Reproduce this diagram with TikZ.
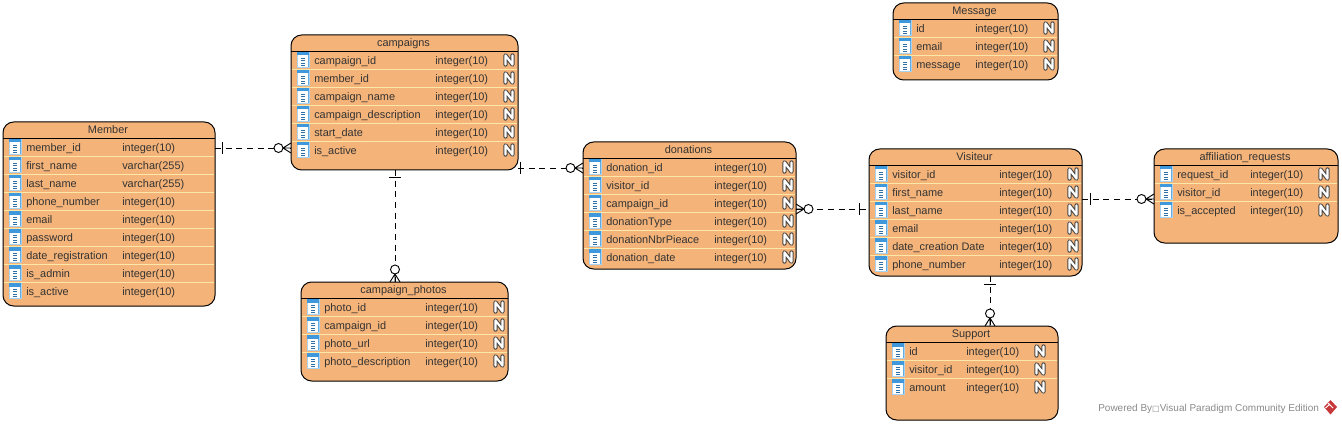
\documentclass[tikz,border=0pt]{standalone}
\usepackage{fontspec}
\setmainfont{Liberation Sans}
\newfontfamily\symfont{DejaVu Sans}
\definecolor{ent}{HTML}{F4B378}
\definecolor{rowline}{HTML}{FBE8A8}
\definecolor{iconblue}{HTML}{3F97DC}
\definecolor{iconlight}{HTML}{A9D2F0}
\definecolor{icondark}{HTML}{2F6FA8}
\definecolor{nedge}{HTML}{4A4A4A}
\definecolor{footgrey}{HTML}{8A8A8A}
\definecolor{vpred}{HTML}{C8373A}
\tikzset{
  entbox/.style={draw=black,line width=0.75pt,fill=ent,rounded corners=8pt,inner sep=0pt,outer sep=0pt},
  enttitle/.style={font=\fontsize{8.2pt}{9pt}\selectfont,inner sep=0pt,anchor=base,text=black!80},
  cell/.style={font=\fontsize{8.2pt}{9pt}\selectfont,inner sep=0pt,anchor=base west,text=black!80},
  conn/.style={line width=0.7pt,dash pattern=on 4.5pt off 3.5pt},
  markline/.style={line width=0.7pt},
  rowrule/.style={draw=rowline,line width=0.6pt},
  footer/.style={font=\fontsize{7.5pt}{9pt}\selectfont,text=footgrey,inner sep=0pt,anchor=base west},
}
\newcommand{\rowicon}[2]{%
  \fill[white,draw=iconlight,line width=0.4pt] (#1+6,#2-8) rectangle (#1+18,#2+7);
  \fill[iconblue] (#1+6,#2-8) rectangle (#1+18,#2-4.5);
  \fill[iconblue!80] (#1+16.5,#2-4.5) rectangle (#1+18,#2+7);
  \foreach \k in {-2,0.5,3,5}{\draw[icondark,line width=0.55pt] (#1+10,#2+\k) -- (#1+14,#2+\k);}
}
\newcommand{\nullmark}[2]{%
  \draw[nedge,line width=3.2pt,line join=round,line cap=round] (#1-3.5,#2+4.6) -- (#1-3.5,#2-4.6) -- (#1+3.5,#2+4.6) -- (#1+3.5,#2-4.6);
  \draw[white,line width=1.6pt,line join=round,line cap=round] (#1-3.5,#2+4.6) -- (#1-3.5,#2-4.6) -- (#1+3.5,#2+4.6) -- (#1+3.5,#2-4.6);
}
% name, title, x0,y0,x1,y1, type x, N x (0 = none), rows
\newcommand{\entity}[9]{%
  \node[entbox,minimum width={(#5-#3)*0.75pt},minimum height={(#6-#4)*0.75pt}] (#1) at ({0.5*#3+0.5*#5},{0.5*#4+0.5*#6}) {};
  \node[enttitle] (#1-title) at ({0.5*#3+0.5*#5-1},#4+11.5) {#2};
  \draw[black,line width=0.7pt] (#3,#4+16) -- (#5,#4+16);
  \foreach \rn/\rt [count=\ri from 0] in {#9} {
    \pgfmathsetmacro{\ry}{#4+25+18*\ri}
    \ifnum\ri>0 \draw[rowrule] (#3+1,\ry-9) -- (#5-1,\ry-9); \fi
    \rowicon{#3}{\ry}
    \node[cell] at (#3+23,\ry+4.5) {\rn};
    \node[cell] at (#7,\ry+4.5) {\rt};
    \ifnum#8>0 \nullmark{#8}{\ry}\fi
  }
}
\newcommand{\crowh}[3]{%
  \draw[markline] (#1,#2-5) -- (#1-#3*8,#2) -- (#1,#2+5) (#1,#2) -- (#1-#3*8,#2);
  \draw[markline,fill=white] (#1-#3*12.5,#2) circle[radius=4.5];
}
\newcommand{\crowv}[2]{%
  \draw[markline] (#1-5,#2) -- (#1,#2-8) -- (#1+5,#2) (#1,#2) -- (#1,#2-8);
  \draw[markline,fill=white] (#1,#2-12.5) circle[radius=4.5];
}
\begin{document}
\begin{tikzpicture}[x=0.75pt,y=-0.75pt]
\useasboundingbox (0,0) rectangle (1342,424);
\fill[white] (0,0) rectangle (1342,424);

\entity{member}{Member}{3}{122}{215}{306}{122}{0}{member\_id/integer(10),first\_name/varchar(255),last\_name/varchar(255),phone\_number/integer(10),email/integer(10),password/integer(10),date\_registration/integer(10),is\_admin/integer(10),is\_active/integer(10)}
\entity{campaigns}{campaigns}{291}{35}{518}{170}{435}{509}{campaign\_id/integer(10),member\_id/integer(10),campaign\_name/integer(10),campaign\_description/integer(10),start\_date/integer(10),is\_active/integer(10)}
\entity{photos}{campaign\_photos}{301}{282}{508}{381}{425}{499}{photo\_id/integer(10),campaign\_id/integer(10),photo\_url/integer(10),photo\_description/integer(10)}
\entity{donations}{donations}{583}{142}{796}{269}{714}{788}{donation\_id/integer(10),visitor\_id/integer(10),campaign\_id/integer(10),donationType/integer(10),donationNbrPieace/integer(10),donation\_date/integer(10)}
\entity{visiteur}{Visiteur}{869}{149}{1082}{276}{999}{1073}{visitor\_id/integer(10),first\_name/integer(10),last\_name/integer(10),email/integer(10),date\_creation Date/integer(10),phone\_number/integer(10)}
\entity{affiliation}{affiliation\_requests}{1154}{149}{1338}{243}{1250}{1324}{request\_id/integer(10),visitor\_id/integer(10),is\_accepted/integer(10)}
\entity{message}{Message}{893}{3}{1058}{80}{975}{1049}{id/integer(10),email/integer(10),message/integer(10)}
\entity{support}{Support}{886}{326}{1058}{420}{966}{1040}{id/integer(10),visitor\_id/integer(10),amount/integer(10)}

% connectors
\draw[conn] ([yshift=49.5pt]member.east) -- ([yshift=-34.125pt]campaigns.west);
\draw[conn] ([xshift=-7.125pt]campaigns.south) -- ([xshift=-7.125pt]photos.north);
\draw[conn] ([yshift=-49.125pt]campaigns.east) -- ([yshift=28.125pt]donations.west);
\draw[conn] ([yshift=-2.625pt]donations.east) -- ([yshift=2.625pt]visiteur.west);
\draw[conn] ([yshift=10.125pt]visiteur.east) -- ([yshift=-2.25pt]affiliation.west);
\draw[conn] ([xshift=10.875pt]visiteur.south) -- ([xshift=13.5pt]support.north);

% one-bars
\draw[markline] (222,142) -- (222,154);
\draw[markline] (389,177) -- (401,177);
\draw[markline] (520,162) -- (520,174);
\draw[markline] (859,203) -- (859,215);
\draw[markline] (1090,193) -- (1090,205);
\draw[markline] (984,284) -- (996,284);

% crow's feet
\crowh{291}{148}{1}
\crowh{583}{168}{1}
\crowh{796}{209}{-1}
\crowh{1154}{199}{1}
\crowv{395}{282}
\crowv{990}{326}

% footer
\node[footer] (powered) at (1098,411) {Powered By{\symfont\fontsize{6pt}{7pt}\selectfont □}Visual Paradigm Community Edition};
\fill[vpred] (1330.5,400) -- (1337,407) -- (1330.5,414.5) -- (1324,407) -- cycle;
\draw[white,line width=0.7pt] (1325.5,408) -- (1330,404) (1328,403) -- (1333,408);
\end{tikzpicture}
\end{document}
